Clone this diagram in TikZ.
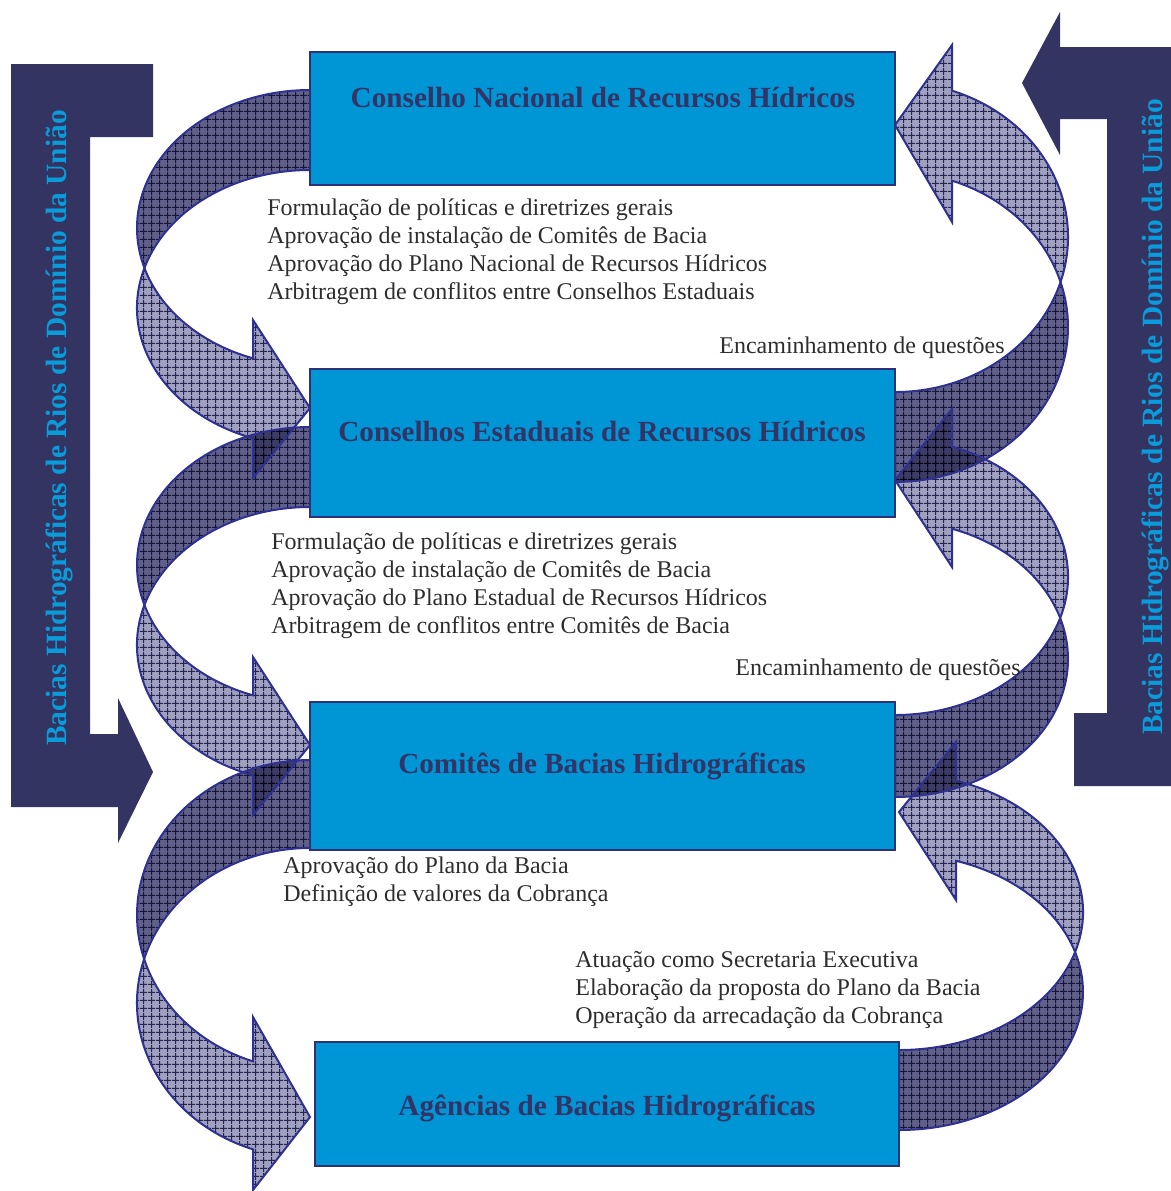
\documentclass[tikz,border=0pt]{standalone}
\usepackage{fontspec}
\setmainfont{Liberation Serif}
\usetikzlibrary{patterns.meta}

\definecolor{barnavy}{RGB}{51,52,98}
\definecolor{boxblue}{RGB}{0,150,214}
\definecolor{boxline}{RGB}{46,49,120}
\definecolor{titlenavy}{RGB}{51,51,102}
\definecolor{sideblue}{RGB}{10,155,218}
\definecolor{bodygray}{RGB}{45,45,45}
\definecolor{arrowline}{RGB}{46,49,146}
\definecolor{banddark}{RGB}{96,96,138}
\definecolor{bandlight}{RGB}{160,160,192}
\definecolor{gridline}{RGB}{60,60,105}

\tikzset{
  box/.style={fill=boxblue, draw=boxline, line width=0.8pt},
  boxtitle/.style={anchor=base, inner sep=0pt, text=titlenavy, font=\fontsize{14.6}{17}\selectfont\bfseries},
  sidetext/.style={rotate=90, anchor=base, inner sep=0pt, text=sideblue, font=\fontsize{14.7}{17}\selectfont\bfseries},
  task/.style={anchor=base west, inner sep=0pt, text=bodygray, font=\fontsize{12}{14}\selectfont},
  bandfills/.style={
    backband/.style={fill=banddark, postaction={pattern={Hatch[angle=0,distance=4pt,line width=0.5pt]}, pattern color=gridline}},
    frontband/.style={fill=bandlight, postaction={pattern={Hatch[angle=0,distance=4pt,line width=0.5pt]}, pattern color=gridline}}},
  bandlines/.style={
    backband/.style={draw=arrowline, line width=1pt},
    frontband/.style={draw=arrowline, line width=1pt}},
}

% curved band arrow: #1 x of box edge, #2 y of outer edge, #3 1 or -1 (turned),
% #4 thickness, #5 x radius, #6 y radius, #7 inner barb, #8 tip, #9 outer barb
\newcommand{\curvedband}[9]{%
  \begin{scope}[shift={(#1,#2)}, xscale=#3, yscale=#3]
    \pgfmathsetmacro\tP{asin(#4/2/#6)}
    \pgfmathsetmacro\tH{acos(57/#5)}
    \pgfmathsetmacro\nY{#6*(1+sin(\tH))}
    \pgfmathsetmacro\oY{#4+\nY}
    \path[backband] (0,0) arc[start angle=270, end angle={180-\tP}, x radius=#5, y radius=#6]
      arc[start angle={180+\tP}, end angle=270, x radius=#5, y radius=#6] -- cycle;
    \path[frontband] (-57,\nY) arc[start angle={180-\tH}, end angle={180-\tP}, x radius=#5, y radius=#6]
      arc[start angle={180+\tP}, end angle={180-\tH}, x radius=#5, y radius=#6]
      -- (-57,#9) -- (0,#8) -- (-57,#7) -- cycle;
  \end{scope}}

\newcommand{\allbands}{%
  \curvedband{310}{90}{1}{80}{173}{138}{230}{318}{388}%
  \curvedband{310}{427}{1}{80}{173}{138}{230}{318}{388}%
  \curvedband{310}{760}{1}{88}{173}{155}{257}{357}{430}%
  \curvedband{895}{482}{-1}{90}{173}{155}{260}{357}{437}%
  \curvedband{895}{797}{-1}{82}{173}{138}{230}{317}{388}%
  \curvedband{899}{1130}{-1}{80}{184}{138}{230}{318}{388}%
}

\begin{document}
\begin{tikzpicture}[x=0.5pt, y=-0.5pt]
    \useasboundingbox (0,0) rectangle (1171,1191);
    \clip (0,0) rectangle (1171,1191);

    % side bars
    \fill[barnavy] (11,64) -- (153,64) -- (153,137) -- (90,137) -- (90,734) -- (118,734)
      -- (118,698) -- (153,772) -- (118,843) -- (118,807) -- (11,807) -- cycle;
    \fill[barnavy] (1022,83) -- (1060,12) -- (1060,47) -- (1190,47) -- (1190,786) -- (1074,786)
      -- (1074,713) -- (1107,713) -- (1107,119) -- (1060,119) -- (1060,155) -- cycle;
    \node[sidetext] (uniaoleft) at (67,428) {Bacias Hidrográficas de Rios de Domínio da União};
    \node[sidetext] (uniaoright) at (1162,417) {Bacias Hidrográficas de Rios de Domínio da União};

    % curved arrows, fills first then outlines
    \begin{scope}[bandfills, blend mode=multiply]
      \allbands
    \end{scope}
    \begin{scope}[bandlines]
      \allbands
    \end{scope}

    % boxes
    \filldraw[box] (310,52) rectangle (895,185);
    \node[boxtitle] (cnrh) at (603,107) {Conselho Nacional de Recursos Hídricos};
    \filldraw[box] (310,369) rectangle (895,517);
    \node[boxtitle] (cerh) at (602,441) {Conselhos Estaduais de Recursos Hídricos};
    \filldraw[box] (310,702) rectangle (895,850);
    \node[boxtitle] (comites) at (602,773) {Comitês de Bacias Hidrográficas};
    \filldraw[box] (315,1042) rectangle (899,1166);
    \node[boxtitle] (agencias) at (607,1115) {Agências de Bacias Hidrográficas};

    % tasks
    \foreach \txt [count=\i] in {Formulação de políticas e diretrizes gerais,
        Aprovação de instalação de Comitês de Bacia,
        Aprovação do Plano Nacional de Recursos Hídricos,
        Arbitragem de conflitos entre Conselhos Estaduais}
      \node[task] (cnrhtask\i) at (267,187+28*\i) {\txt};
    \node[task] (cnrhup) at (719,353) {Encaminhamento de questões};

    \foreach \txt [count=\i] in {Formulação de políticas e diretrizes gerais,
        Aprovação de instalação de Comitês de Bacia,
        Aprovação do Plano Estadual de Recursos Hídricos,
        Arbitragem de conflitos entre Comitês de Bacia}
      \node[task] (cerhtask\i) at (271,521+28*\i) {\txt};
    \node[task] (cerhup) at (735,675) {Encaminhamento de questões};

    \foreach \txt [count=\i] in {Aprovação do Plano da Bacia,
        Definição de valores da Cobrança}
      \node[task] (comitetask\i) at (283,845+28*\i) {\txt};

    \foreach \txt [count=\i] in {Atuação como Secretaria Executiva,
        Elaboração da proposta do Plano da Bacia,
        Operação da arrecadação da Cobrança}
      \node[task] (agenciatask\i) at (575,939+28*\i) {\txt};

\end{tikzpicture}
\end{document}
